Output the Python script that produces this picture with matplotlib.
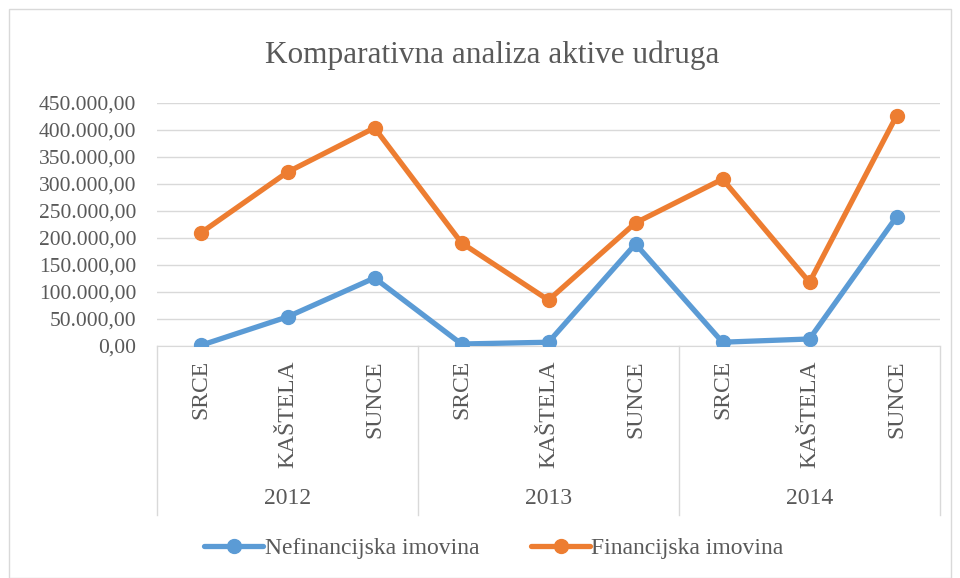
import matplotlib
matplotlib.use("Agg")
import matplotlib.pyplot as plt
from matplotlib.ticker import FuncFormatter, MultipleLocator
from matplotlib.patches import Rectangle
from matplotlib.lines import Line2D

plt.rcParams["font.family"] = ["Liberation Serif", "DejaVu Serif"]

# podaci
godine = ["2012", "2013", "2014"]
udruge = ["SRCE", "KAŠTELA", "SUNCE"]
nefinancijska = [1000, 54000, 126000, 3700, 7000, 189000, 7000, 13000, 239000]
financijska = [209000, 322000, 404000, 191000, 85000, 228000, 309000, 118000, 426000]

BLUE = "#5B9BD5"
ORANGE = "#ED7D31"
TXT = "#595959"
GRID = "#D9D9D9"

W, H = 960, 578
fig = plt.figure(figsize=(W / 100, H / 100), dpi=100)

# okvir grafikona
fig.patches.append(Rectangle((9 / W, 0), 942 / W, 1 - 9 / H, transform=fig.transFigure,
                             fill=False, edgecolor=GRID, linewidth=1))

left, right, top, bottom = 157, 940, 103, 346
ax = fig.add_axes([left / W, 1 - bottom / H, (right - left) / W, (bottom - top) / H])

n = len(godine) * len(udruge)
x = list(range(n))
ax.plot(x, nefinancijska, color=BLUE, lw=3.8, marker="o", ms=10, solid_capstyle="round",
        label="Nefinancijska imovina", zorder=3)
ax.plot(x, financijska, color=ORANGE, lw=3.8, marker="o", ms=10, solid_capstyle="round",
        label="Financijska imovina", zorder=3)

ax.set_xlim(-0.5, n - 0.5)
ax.set_ylim(0, 450000)
ax.yaxis.set_major_locator(MultipleLocator(50000))


def fmt(v, pos):
    s = f"{v:,.2f}"
    return s.replace(",", "X").replace(".", ",").replace("X", ".")


ax.yaxis.set_major_formatter(FuncFormatter(fmt))
ax.tick_params(axis="y", length=0, labelsize=15.5, labelcolor=TXT, pad=15)
ax.grid(axis="y", color=GRID, lw=1)
ax.set_axisbelow(True)
for s in ("top", "right", "left"):
    ax.spines[s].set_visible(False)
ax.spines["bottom"].set_color(GRID)
ax.set_xticks([])

# dvorazinska kategorijska os
tr = ax.get_xaxis_transform()
dy = 1 / ((bottom - top))  # jedan piksel u koordinatama osi
for i in range(n):
    ax.text(x[i], -14 * dy, udruge[i % len(udruge)], transform=tr, rotation=90,
            ha="center", va="top", fontsize=17, color=TXT)
for g, god in enumerate(godine):
    mid = g * len(udruge) + (len(udruge) - 1) / 2
    ax.text(mid, -153 * dy, god, transform=tr, ha="center", va="center",
            fontsize=17, color=TXT)
for b in range(len(godine) + 1):
    xb = b * len(udruge) - 0.5
    ax.add_line(Line2D([xb, xb], [0, -169 * dy], transform=tr, color=GRID, lw=1,
                       clip_on=False))

fig.text(492 / W, 1 - 55 / H, "Komparativna analiza aktive udruga",
         ha="center", va="center", fontsize=22.5, color=TXT)

fig.legend(loc="center", bbox_to_anchor=(494 / W, 1 - 548 / H), ncol=2, frameon=False,
           fontsize=17, labelcolor=TXT, handlelength=2.5, handletextpad=0.05,
           columnspacing=2.2)

fig.savefig("out.png", dpi=100)
